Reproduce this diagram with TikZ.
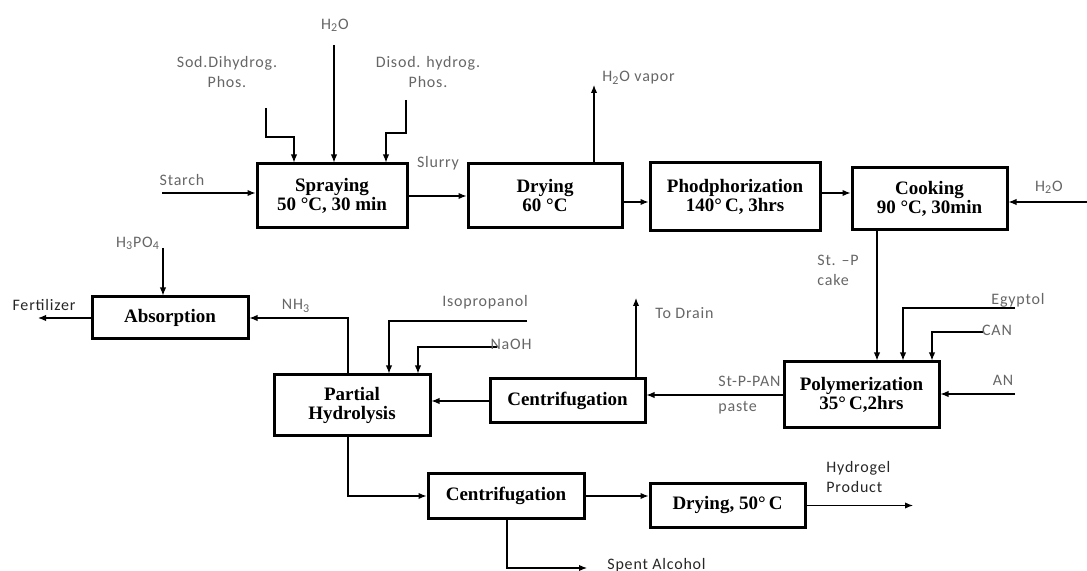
\documentclass[tikz,border=0pt]{standalone}
\usepackage{fontspec}
\setmainfont{Liberation Serif}
\newfontfamily\lblfont[LetterSpace=5]{Carlito}
\usetikzlibrary{arrows.meta}

\begin{document}
\begin{tikzpicture}[x=0.5pt, y=-0.5pt,
    box/.style={draw, line width=1.5pt, align=center, inner sep=1pt,
        font=\bfseries\fontsize{9.5}{9.5}\selectfont},
    lbl/.style={text=black!60, align=center, inner sep=0pt,
        font=\lblfont\fontsize{8}{10}\selectfont},
    outlbl/.style={lbl, text=black!85},
    flow/.style={line width=0.6pt, -{Latex[length=4pt,width=3.2pt]}}]
\useasboundingbox (0,0) rectangle (1087,571);

% process boxes
\node[box, minimum width=75pt, minimum height=32pt] (spray) at (332,196) {Spraying\\50 °C, 30 min};
\node[box, minimum width=77pt, minimum height=32pt] (dry) at (545,196) {Drying\\60 °C};
\node[box, minimum width=85pt, minimum height=34pt] (phos) at (735,197) {Phodphorization\\140°\,C, 3hrs};
\node[box, minimum width=77.5pt, minimum height=31pt] (cook) at (929.5,199) {Cooking\\90 °C, 30min};
\node[box, minimum width=77.5pt, minimum height=33pt] (poly) at (861.5,395) {Polymerization\\35°\,C,2hrs};
\node[box, minimum width=77.5pt, minimum height=22pt] (cent) at (567.5,401) {Centrifugation};
\node[box, minimum width=78pt, minimum height=30.5pt] (hydro) at (352,405.5) {Partial\\Hydrolysis};
\node[box, minimum width=78pt, minimum height=21pt] (absorb) at (170,318) {Absorption};
\node[box, minimum width=78pt, minimum height=22pt] (centb) at (506,496) {Centrifugation};
\node[box, minimum width=77.5pt, minimum height=21.5pt] (drylast) at (727.5,505.5) {Drying, 50°\,C};

% free ends
\coordinate (starch) at (162,193);
\coordinate (sod) at (266,108);
\coordinate (waterin) at (334,45);
\coordinate (disod) at (406,100);
\coordinate (vapor) at (594,85);
\coordinate (waterr) at (1087,202);
\coordinate (egy) at (1015,308);
\coordinate (can) at (983,332);
\coordinate (an) at (1015,394);
\coordinate (drain) at (636,298);
\coordinate (iso) at (527,321);
\coordinate (naoh) at (497,347);
\coordinate (acid) at (163,248);
\coordinate (fert) at (38,320);
\coordinate (prod) at (913,505);
\coordinate (spent) at (587,568);

% top line
\draw[flow] (starch) -- (starch -| spray.west);
\draw[flow] (sod) -- ++(0,29) -| ([xshift=-19pt]spray.north);
\draw[flow] (waterin) -- (waterin |- spray.north);
\draw[flow] (disod) -- ++(0,33) -| ([xshift=27pt]spray.north);
\draw[flow] (spray.east) -- (spray.east -| dry.west);
\draw[flow] (vapor |- dry.north) -- (vapor);
\draw[flow] ([yshift=-3pt]dry.east) coordinate (p) -- (p -| phos.west);
\draw[flow] ([yshift=2pt]phos.east) coordinate (q) -- (q -| cook.west);
\draw[flow] (waterr) -- (waterr -| cook.east);

% polymerization and back
\draw[flow] ([xshift=-26.25pt]cook.south) coordinate (r) -- (r |- poly.north);
\draw[flow] (egy) -| ([xshift=20.75pt]poly.north);
\draw[flow] (can) -| ([xshift=35.25pt]poly.north);
\draw[flow] (an) -- (an -| poly.east);
\draw[flow] (poly.west) -- (poly.west -| cent.east);
\draw[flow] (drain |- cent.north) -- (drain);
\draw[flow] (cent.west) -- (cent.west -| hydro.east);
\draw[flow] (iso) -| ([xshift=18.5pt]hydro.north);
\draw[flow] (naoh) -| ([xshift=33pt]hydro.north);
\draw[flow] ([xshift=-2pt]hydro.north) |- (absorb.east);
\draw[flow] (acid) -- (acid |- absorb.north);
\draw[flow] (absorb.west) -- (fert |- absorb.west);

% bottom line
\draw[flow] ([xshift=-2pt]hydro.south) |- (centb.west);
\draw[flow] (centb.east) -- (centb.east -| drylast.west);
\draw[flow] (drylast.east) -- (prod |- drylast.east);
\draw[flow] ([xshift=0.5pt]centb.south) |- (spent);

% stream labels
\node[lbl] (starchlbl) at (182,180) {Starch};
\node[lbl] (sodlbl) at (227,72) {Sod.Dihydrog.\\Phos.};
\node[lbl] (waterlbl) at (335,25) {H\textsubscript{2}O};
\node[lbl] (disodlbl) at (428,72) {Disod. hydrog.\\Phos.};
\node[lbl] (slurrylbl) at (438,163) {Slurry};
\node[lbl, anchor=west] (vaporlbl) at (602,78) {H\textsubscript{2}O vapor};
\node[lbl] (waterrlbl) at (1049,187) {H\textsubscript{2}O};
\node[lbl, anchor=west, align=left] (cakelbl) at (817,270.5) {St. –P\\cake};
\node[lbl] (egylbl) at (1018,300) {Egyptol};
\node[lbl] (canlbl) at (997,330) {CAN};
\node[lbl] (anlbl) at (1003,380) {AN};
\node[lbl, anchor=west, align=left] (pastelbl) at (718,395.5) {St-P-PAN\\[2.5pt]paste};
\node[lbl, anchor=west] (drainlbl) at (655,313) {To Drain};
\node[lbl] (isolbl) at (485,302) {Isopropanol};
\node[lbl] (naohlbl) at (511,344) {NaOH};
\node[lbl] (nh3lbl) at (296,306) {NH\textsubscript{3}};
\node[lbl] (acidlbl) at (138,243) {H\textsubscript{3}PO\textsubscript{4}};
\node[outlbl] (fertlbl) at (44,305) {Fertilizer};
\node[outlbl, anchor=west, align=left] (prodlbl) at (826,477) {Hydrogel\\Product};
\node[outlbl, anchor=west] (spentlbl) at (607,565) {Spent Alcohol};
\end{tikzpicture}
\end{document}
